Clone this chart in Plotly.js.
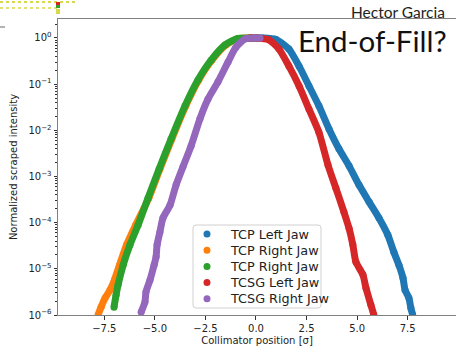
<!DOCTYPE html>
<html>
<head>
<meta charset="utf-8">
<script src="https://cdn.plot.ly/plotly-3.0.1.min.js"></script>
<style>html,body{margin:0;padding:0;background:#fff;}#chart{width:456px;height:349px;}</style>
</head>
<body>
<div id="chart"></div>
<script>
// Series names
const seriesNames = ["TCP Left Jaw", "TCP Right Jaw", "TCP Right Jaw", "TCSG Left Jaw", "TCSG Right Jaw"];
const seriesColors = ["#1f77b4", "#ff7f0e", "#2ca02c", "#d62728", "#9467bd"];

// TCP Left Jaw (blue)
const tcpLeftX = [-0.3, 0.3, 0.99, 1.63, 2.13, 2.62, 3.11, 3.61, 4.10, 4.60, 5.09, 5.59, 6.08, 6.52, 6.82, 7.07, 7.27, 7.37, 7.56, 7.66, 7.75];
const tcpLeftY = [1, 1, 0.93, 0.575, 0.245, 0.0912, 0.0339, 0.0107, 3.98e-3, 1.70e-3, 6.6e-4, 2.82e-4, 1.26e-4, 5.4e-5, 2.29e-5, 1.20e-5, 6.3e-6, 3.47e-6, 2.34e-6, 1.41e-6, 1.0e-6];

// TCP Right Jaw (orange)
const tcpRightAX = [-7.81, -7.66, -7.46, -7.22, -7.0, -6.75, -6.40, -5.95, -5.30, -4.75, -4.16, -3.47, -2.83, -2.18, -1.49, -0.86, -0.3, 0.1];
const tcpRightAY = [1.0e-6, 1.48e-6, 2.34e-6, 3.47e-6, 5.75e-6, 1.20e-5, 3.31e-5, 8.9e-5, 3.39e-4, 1.45e-3, 6.5e-3, 0.0339, 0.123, 0.331, 0.708, 0.977, 1, 1];

// TCP Right Jaw (green)
const tcpRightBX = [-7.02, -6.92, -6.82, -6.57, -6.23, -5.83, -5.34, -4.79, -4.20, -3.51, -2.87, -2.22, -1.53, -0.89, -0.3, 0.1];
const tcpRightBY = [1.48e-6, 2.69e-6, 4.47e-6, 1.20e-5, 3.31e-5, 8.9e-5, 3.39e-4, 1.45e-3, 6.5e-3, 0.0339, 0.123, 0.331, 0.708, 0.977, 1, 1];

// TCSG Left Jaw (red)
const tcsgLeftX = [-0.3, 0, 0.64, 1.14, 1.63, 2.13, 2.62, 3.11, 3.56, 3.95, 4.35, 4.60, 4.79, 4.94, 5.29, 5.44, 5.68, 5.83];
const tcsgLeftY = [1, 1, 0.912, 0.575, 0.245, 0.0912, 0.0288, 9.1e-3, 1.78e-3, 5.6e-4, 1.70e-4, 7.6e-5, 3.31e-5, 1.41e-5, 7.4e-6, 3.8e-6, 1.66e-6, 1.0e-6];

// TCSG Right Jaw (purple)
const tcsgRightX = [-5.68, -5.49, -5.44, -5.24, -5.04, -4.94, -4.89, -4.75, -4.60, -4.25, -3.95, -3.61, -3.21, -2.77, -2.37, -1.88, -1.38, -0.99, -0.54, -0.05, 0.2];
const tcsgRightY = [1.15e-6, 1.91e-6, 3.16e-6, 5.75e-6, 1.20e-5, 1.82e-5, 3.31e-5, 6.31e-5, 1.26e-4, 2.40e-4, 6.61e-4, 1.62e-3, 4.57e-3, 0.0178, 0.0479, 0.112, 0.302, 0.631, 0.955, 1, 1];

// Tick labels
const xTickVals = [-7.5, -5.0, -2.5, 0.0, 2.5, 5.0, 7.5];
const xTickText = ["\u22127.5", "\u22125.0", "\u22122.5", "0.0", "2.5", "5.0", "7.5"];
const yTickVals = [1e-6, 1e-5, 1e-4, 1e-3, 1e-2, 1e-1, 1];
const yTickText = ["10<sup>\u22126</sup>", "10<sup>\u22125</sup>", "10<sup>\u22124</sup>", "10<sup>\u22123</sup>", "10<sup>\u22122</sup>", "10<sup>\u22121</sup>", "10<sup>0</sup>"];

const allX = [tcpLeftX, tcpRightAX, tcpRightBX, tcsgLeftX, tcsgRightX];
const allY = [tcpLeftY, tcpRightAY, tcpRightBY, tcsgLeftY, tcsgRightY];

const traces = [];
for (let i = 0; i < allX.length; i++) {
  traces.push({
    x: allX[i], y: allY[i], type: 'scatter', mode: 'lines',
    line: {color: seriesColors[i], width: 7, shape: 'spline', smoothing: 0.6}, showlegend: false, hoverinfo: 'skip'
  });
  traces.push({
    x: allX[i], y: allY[i], type: 'scatter', mode: 'markers', name: seriesNames[i],
    marker: {color: seriesColors[i], size: 7}, showlegend: false
  });
}

// minor tick positions for log axis
const minorVals = [];
for (let d = -6; d <= 0; d++) {
  for (let m = 2; m <= 9; m++) minorVals.push(m * Math.pow(10, d));
}

const W = 456, H = 349, L = 58, R = 0, T = 19, B = 34;
const pw = W - L - R, ph = H - T - B;
const px = v => (v - L) / pw;
const py = v => (H - B - v) / ph;

// Manual legend (matplotlib-style compact spacing, rounded frame)
const legLeft = 193, legRight = 321, legTop = 225, legBottom = 308, rad = 3;
const legRow0 = 234, legRowStep = 16.2, legMarkX = 207, legTextX = 229;
function P(xp, yp) { return px(xp) + ',' + py(yp); }
const legPath = 'M' + P(legLeft + rad, legTop) + ' L' + P(legRight - rad, legTop) +
  ' Q' + P(legRight, legTop) + ' ' + P(legRight, legTop + rad) +
  ' L' + P(legRight, legBottom - rad) + ' Q' + P(legRight, legBottom) + ' ' + P(legRight - rad, legBottom) +
  ' L' + P(legLeft + rad, legBottom) + ' Q' + P(legLeft, legBottom) + ' ' + P(legLeft, legBottom - rad) +
  ' L' + P(legLeft, legTop + rad) + ' Q' + P(legLeft, legTop) + ' ' + P(legLeft + rad, legTop) + ' Z';
const shapes = [
  {type: 'path', xref: 'paper', yref: 'paper', layer: 'above', path: legPath,
   fillcolor: 'rgba(255,255,255,0.85)', line: {color: '#d0d0d0', width: 1}}
];
const annotations = [];
for (let i = 0; i < seriesNames.length; i++) {
  const yc = legRow0 + i * legRowStep;
  shapes.push({type: 'circle', xref: 'paper', yref: 'paper', layer: 'above',
    x0: px(legMarkX - 3.5), x1: px(legMarkX + 3.5), y0: py(yc + 3.5), y1: py(yc - 3.5),
    fillcolor: seriesColors[i], line: {width: 0}});
  annotations.push({xref: 'paper', yref: 'paper', x: px(legTextX), y: py(yc), xanchor: 'left', yanchor: 'middle',
    text: seriesNames[i], showarrow: false, borderpad: 0,
    font: {family: 'DejaVu Sans, sans-serif', size: 12.8, color: '#222'}});
}

annotations.push(
  {xref: 'paper', yref: 'paper', x: px(448), y: py(59), xanchor: 'right', yanchor: 'bottom', borderpad: 0,
   text: 'End-of-Fill?', showarrow: false, font: {family: 'Lato, Open Sans, sans-serif', size: 29.5, color: '#111'}},
  {xref: 'paper', yref: 'paper', x: px(446), y: py(22), xanchor: 'right', yanchor: 'bottom', borderpad: 0,
   text: 'Hector Garcia', showarrow: false, font: {family: 'Lato, Open Sans, sans-serif', size: 15.5, color: '#222'}}
);

shapes.push(
  {type: 'line', xref: 'paper', yref: 'paper', x0: px(0), x1: px(77), y0: py(2), y1: py(2), line: {color: '#d8d84a', width: 2, dash: 'dot'}},
  {type: 'line', xref: 'paper', yref: 'paper', x0: px(0), x1: px(58), y0: py(8), y1: py(8), line: {color: '#d8d84a', width: 1.5, dash: 'dot'}},
  {type: 'rect', xref: 'paper', yref: 'paper', x0: px(56), x1: px(60), y0: py(2), y1: py(5), fillcolor: '#e02020', line: {width: 0}},
  {type: 'rect', xref: 'paper', yref: 'paper', x0: px(56), x1: px(60), y0: py(5), y1: py(8), fillcolor: '#30a030', line: {width: 0}},
  {type: 'rect', xref: 'paper', yref: 'paper', x0: px(56), x1: px(60), y0: py(9), y1: py(14), fillcolor: '#d8d84a', line: {width: 0}},
  {type: 'line', xref: 'paper', yref: 'paper', x0: px(0), x1: px(5), y0: py(27), y1: py(27), line: {color: '#666', width: 1}}
);

const layout = {
  width: W, height: H,
  margin: {l: L, r: R, t: T, b: B, pad: 0},
  paper_bgcolor: '#fff', plot_bgcolor: '#fff',
  showlegend: false,
  font: {family: 'DejaVu Sans, sans-serif', size: 10, color: '#222'},
  xaxis: {
    range: [-9.79, 9.89], tickmode: 'array', tickvals: xTickVals, ticktext: xTickText,
    ticks: 'outside', ticklen: 3.5, tickwidth: 1, tickcolor: '#333',
    showgrid: false, zeroline: false, showline: true, linecolor: '#808080', linewidth: 1, mirror: true,
    tickfont: {size: 10, color: '#222'},
    title: {text: 'Collimator position [\u03c3]', font: {size: 10, color: '#222'}, standoff: 4}
  },
  yaxis: {
    type: 'log', range: [-6, 0.411], tickmode: 'array', tickvals: yTickVals, ticktext: yTickText,
    ticks: 'outside', ticklen: 3.5, tickwidth: 1, tickcolor: '#333',
    minor: {tickmode: 'array', tickvals: minorVals, ticks: 'outside', ticklen: 2, tickcolor: '#333', showgrid: false},
    showgrid: false, zeroline: false, showline: true, linecolor: '#808080', linewidth: 1, mirror: false,
    tickfont: {size: 10, color: '#222'},
    title: {text: 'Normalized scraped intensity', font: {size: 10, color: '#222'}, standoff: 8}
  },
  annotations: annotations,
  shapes: shapes
};

Plotly.newPlot('chart', traces, layout, {displayModeBar: false, staticPlot: true});
</script>
</body>
</html>
